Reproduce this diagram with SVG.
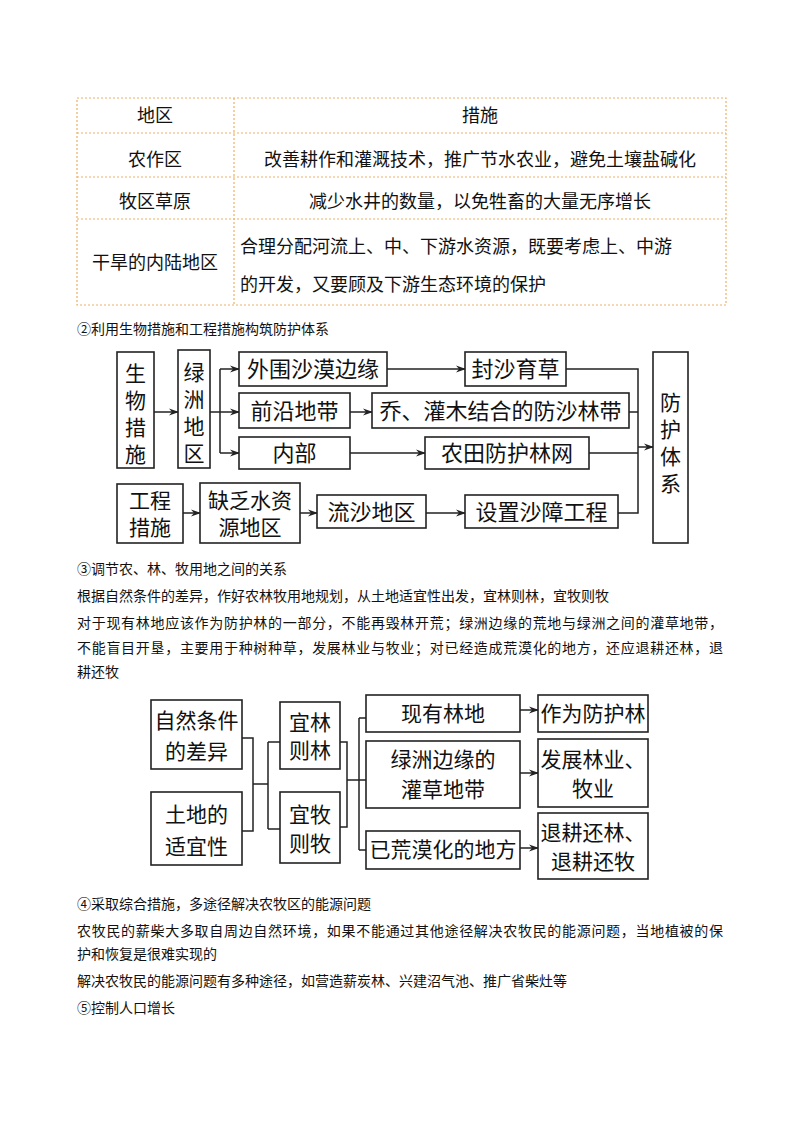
<svg xmlns="http://www.w3.org/2000/svg" width="800" height="1132" viewBox="0 0 800 1132">
<defs>
<style>
text{font-family:"Noto Sans CJK SC","Liberation Sans",sans-serif;fill:#111}
.t{font-size:18px;text-anchor:middle}
.tl{font-size:18px}
.p{font-size:14px}
.n{font-size:22px;text-anchor:middle}
.v{font-size:21px;text-anchor:middle}
.s{font-size:21px;text-anchor:middle}
.b{fill:#fff;stroke:#222;stroke-width:1.6}
.c{fill:none;stroke:#222;stroke-width:1.5}
.g{fill:none;stroke:#f0b060;stroke-width:1.2;stroke-dasharray:2 2}
</style>
<marker id="a" markerWidth="10" markerHeight="8" refX="9" refY="4" orient="auto" markerUnits="userSpaceOnUse"><path d="M0,0.5 L10,4 L0,7.5 L3,4 z" fill="#222"/></marker>
</defs>
<rect width="800" height="1132" fill="#fff"/>
<g id="table">
<rect class="g" x="77" y="98" width="649" height="207"/>
<line class="g" x1="234" y1="98" x2="234" y2="305"/>
<line class="g" x1="77" y1="133" x2="726" y2="133"/>
<line class="g" x1="77" y1="177" x2="726" y2="177"/>
<line class="g" x1="77" y1="219" x2="726" y2="219"/>
<text class="t" x="155" y="122">地区</text>
<text class="t" x="480" y="122">措施</text>
<text class="t" x="155" y="166">农作区</text>
<text class="t" x="480" y="166">改善耕作和灌溉技术，推广节水农业，避免土壤盐碱化</text>
<text class="t" x="155" y="208">牧区草原</text>
<text class="t" x="480" y="208">减少水井的数量，以免牲畜的大量无序增长</text>
<text class="t" x="155" y="269">干旱的内陆地区</text>
<text class="tl" x="240" y="253">合理分配河流上、中、下游水资源，既要考虑上、中游</text>
<text class="tl" x="240" y="291">的开发，又要顾及下游生态环境的保护</text>
</g>
<text class="p" x="77" y="334">②利用生物措施和工程措施构筑防护体系</text>
<g id="connectors1">
<path class="c" d="M154,412 H178" marker-end="url(#a)"/>
<path class="c" d="M210,412 H220 M220,369 V453"/>
<path class="c" d="M220,369 H239" marker-end="url(#a)"/>
<path class="c" d="M220,412 H239" marker-end="url(#a)"/>
<path class="c" d="M220,453 H239" marker-end="url(#a)"/>
<path class="c" d="M387,369 H465" marker-end="url(#a)"/>
<path class="c" d="M350,412 H372" marker-end="url(#a)"/>
<path class="c" d="M350,453 H425" marker-end="url(#a)"/>
<path class="c" d="M183,513 H200" marker-end="url(#a)"/>
<path class="c" d="M300,513 H317" marker-end="url(#a)"/>
<path class="c" d="M426,513 H465" marker-end="url(#a)"/>
<path class="c" d="M566,369 H638 V513 H618 M629,412 H638 M589,453 H638"/>
<path class="c" d="M638,447 H653" marker-end="url(#a)"/>
</g>
<g id="n1"><rect class="b" x="117" y="352" width="37" height="116"/><text class="v" x="135.5" y="381">生</text><text class="v" x="135.5" y="408">物</text><text class="v" x="135.5" y="435">措</text><text class="v" x="135.5" y="462">施</text></g>
<g id="n2"><rect class="b" x="178" y="350" width="32" height="118"/><text class="v" x="194" y="380">绿</text><text class="v" x="194" y="407">洲</text><text class="v" x="194" y="434">地</text><text class="v" x="194" y="461">区</text></g>
<g id="n3"><rect class="b" x="239" y="352" width="148" height="34"/><text class="n" x="313" y="377">外围沙漠边缘</text></g>
<g id="n4"><rect class="b" x="465" y="352" width="101" height="34"/><text class="n" x="515.5" y="377">封沙育草</text></g>
<g id="n5"><rect class="b" x="239" y="393" width="111" height="35"/><text class="n" x="294.5" y="419">前沿地带</text></g>
<g id="n6"><rect class="b" x="372" y="393" width="257" height="35"/><text class="n" x="500.5" y="419">乔、灌木结合的防沙林带</text></g>
<g id="n7"><rect class="b" x="239" y="437" width="111" height="32"/><text class="n" x="294.5" y="461">内部</text></g>
<g id="n8"><rect class="b" x="425" y="437" width="164" height="32"/><text class="n" x="507" y="461">农田防护林网</text></g>
<g id="n9"><rect class="b" x="653" y="352" width="35" height="191"/><text class="v" x="670.5" y="410">防</text><text class="v" x="670.5" y="437">护</text><text class="v" x="670.5" y="464">体</text><text class="v" x="670.5" y="491">系</text></g>
<g id="n10"><rect class="b" x="117" y="484" width="66" height="59"/><text class="v" x="150" y="508">工程</text><text class="v" x="150" y="535">措施</text></g>
<g id="n11"><rect class="b" x="200" y="483" width="100" height="60"/><text class="v" x="250" y="508">缺乏水资</text><text class="v" x="250" y="535">源地区</text></g>
<g id="n12"><rect class="b" x="317" y="495" width="109" height="33"/><text class="n" x="371.5" y="520">流沙地区</text></g>
<g id="n13"><rect class="b" x="465" y="495" width="153" height="33"/><text class="n" x="541.5" y="520">设置沙障工程</text></g>
<text class="p" x="77" y="574">③调节农、林、牧用地之间的关系</text>
<text class="p" x="77" y="601">根据自然条件的差异，作好农林牧用地规划，从土地适宜性出发，宜林则林，宜牧则牧</text>
<text class="p" x="77" y="628" textLength="646" lengthAdjust="spacing">对于现有林地应该作为防护林的一部分，不能再毁林开荒；绿洲边缘的荒地与绿洲之间的灌草地带，</text>
<text class="p" x="77" y="653" textLength="646" lengthAdjust="spacing">不能盲目开垦，主要用于种树种草，发展林业与牧业；对已经造成荒漠化的地方，还应退耕还林，退</text>
<text class="p" x="77" y="677">耕还牧</text>
<g id="connectors2">
<path class="c" d="M242,738 H253 V831 H242 M253,784 H268 M268,742 V829"/>
<path class="c" d="M268,742 H280 M268,829 H280"/>
<path class="c" d="M340,742 H347 V827 H340 M347,780 H359 M359,718 V850"/>
<path class="c" d="M359,718 H366 M359,780 H366 M359,850 H366"/>
<path class="c" d="M520,710 H538" marker-end="url(#a)"/>
<path class="c" d="M520,773 H538" marker-end="url(#a)"/>
<path class="c" d="M520,848 H538" marker-end="url(#a)"/>
</g>
<g id="m1"><rect class="b" x="151" y="700" width="91" height="69"/><text class="s" x="196.5" y="728">自然条件</text><text class="s" x="196.5" y="759">的差异</text></g>
<g id="m2"><rect class="b" x="151" y="792" width="91" height="73"/><text class="s" x="196.5" y="822">土地的</text><text class="s" x="196.5" y="854">适宜性</text></g>
<g id="m3"><rect class="b" x="280" y="702" width="60" height="67"/><text class="s" x="310" y="730">宜林</text><text class="s" x="310" y="758">则林</text></g>
<g id="m4"><rect class="b" x="280" y="792" width="60" height="71"/><text class="s" x="310" y="822">宜牧</text><text class="s" x="310" y="851">则牧</text></g>
<g id="m5"><rect class="b" x="366" y="695" width="154" height="37"/><text class="s" x="443" y="721">现有林地</text></g>
<g id="m6"><rect class="b" x="366" y="741" width="154" height="67"/><text class="s" x="443" y="767">绿洲边缘的</text><text class="s" x="443" y="797">灌草地带</text></g>
<g id="m7"><rect class="b" x="366" y="831" width="154" height="38"/><text class="s" x="443" y="857">已荒漠化的地方</text></g>
<g id="m8"><rect class="b" x="538" y="695" width="110" height="37"/><text class="s" x="593" y="721">作为防护林</text></g>
<g id="m9"><rect class="b" x="538" y="739" width="110" height="68"/><text class="s" x="593" y="767">发展林业、</text><text class="s" x="593" y="796">牧业</text></g>
<g id="m10"><rect class="b" x="538" y="813" width="110" height="66"/><text class="s" x="593" y="840">退耕还林、</text><text class="s" x="593" y="869">退耕还牧</text></g>
<text class="p" x="77" y="909">④采取综合措施，多途径解决农牧区的能源问题</text>
<text class="p" x="77" y="936" textLength="646" lengthAdjust="spacing">农牧民的薪柴大多取自周边自然环境，如果不能通过其他途径解决农牧民的能源问题，当地植被的保</text>
<text class="p" x="77" y="959">护和恢复是很难实现的</text>
<text class="p" x="77" y="986">解决农牧民的能源问题有多种途径，如营造薪炭林、兴建沼气池、推广省柴灶等</text>
<text class="p" x="77" y="1013">⑤控制人口增长</text>
</svg>
